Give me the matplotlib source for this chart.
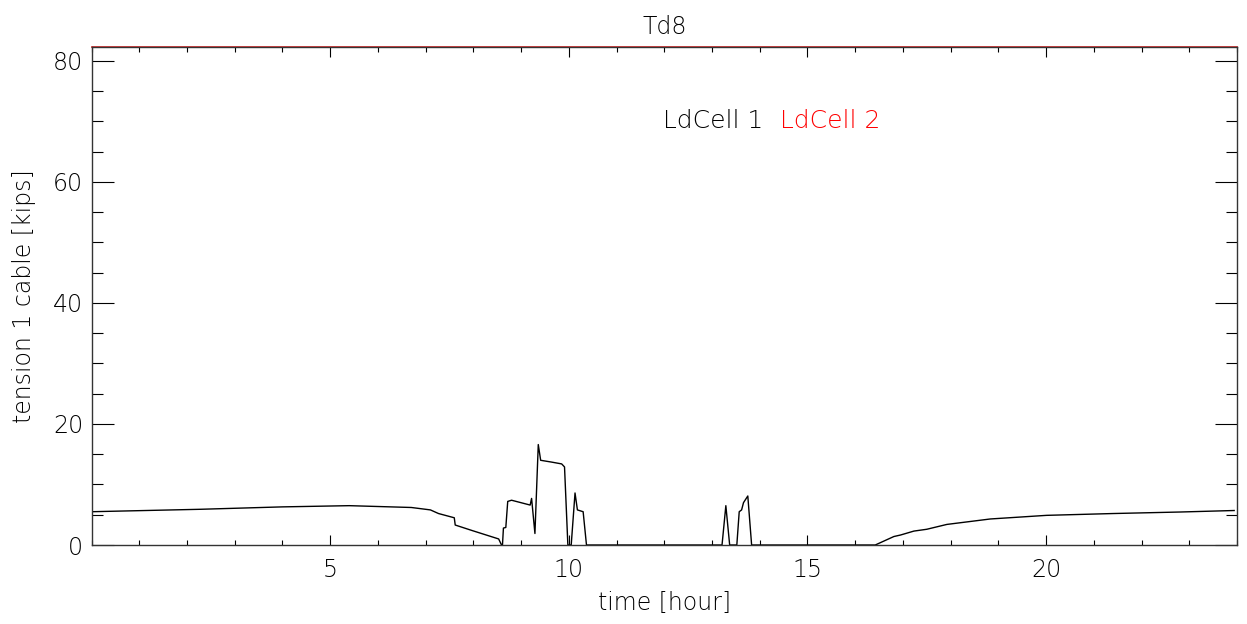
# Td8 load cell tension over one day (IDL-style plot)
import matplotlib
matplotlib.use('Agg')
import matplotlib.pyplot as plt
from matplotlib.ticker import MultipleLocator

# LdCell 1 readings (hour, kips)
hours_1 = [0.0, 2.27, 4.0, 5.4, 6.7, 7.1, 7.27, 7.6, 7.62, 7.97, 8.53, 8.59,
           8.61, 8.63, 8.68, 8.72, 8.8, 9.19, 9.22, 9.29, 9.36, 9.41, 9.64,
           9.85, 9.91, 9.98, 10.05, 10.13, 10.18, 10.30, 10.37,
           13.21, 13.29, 13.37, 13.52, 13.57, 13.62, 13.66, 13.75, 13.83,
           16.42, 16.81, 16.95, 17.23, 17.5, 17.92, 18.83, 20.01, 21.4,
           22.8, 23.94]
tension_1 = [5.5, 5.9, 6.3, 6.5, 6.2, 5.8, 5.2, 4.5, 3.3, 2.4, 1.0, 0.0,
             0.0, 2.8, 2.9, 7.2, 7.4, 6.6, 7.7, 1.9, 16.6, 14.0, 13.7,
             13.4, 12.9, 0.0, 0.0, 8.6, 5.8, 5.5, 0.0,
             0.0, 6.5, 0.0, 0.0, 5.5, 5.8, 7.0, 8.1, 0.0,
             0.0, 1.4, 1.65, 2.3, 2.6, 3.4, 4.3, 4.9, 5.2,
             5.45, 5.7]

# LdCell 2 sits pinned at the top of the range all day
hours_2 = [0.0, 24.0]
tension_2 = [82.3, 82.3]

plt.rcParams['font.family'] = ['DejaVu Sans']

fig = plt.figure(figsize=(12.47, 6.24), dpi=100)
ax = fig.add_axes([0.0734, 0.1266, 0.9186, 0.7981])

ax.plot(hours_1, tension_1, color='black', linewidth=1.0)
ax.plot(hours_2, tension_2, color='#d62020', linewidth=1.2, clip_on=False)

ax.set_xlim(0, 24)
ax.set_ylim(0, 82.3)

ax.xaxis.set_major_locator(MultipleLocator(5))
ax.xaxis.set_minor_locator(MultipleLocator(1))
ax.yaxis.set_major_locator(MultipleLocator(20))
ax.yaxis.set_minor_locator(MultipleLocator(5))
ax.set_xticks([5, 10, 15, 20])

ax.tick_params(axis='x', which='major', direction='in', length=7, width=0.8,
               top=True, labelsize=17, pad=9, colors='black')
ax.tick_params(axis='x', which='minor', direction='in', length=3.6, width=0.8,
               top=True)
ax.tick_params(axis='y', which='major', direction='in', length=16, width=0.8,
               right=True, labelsize=17, pad=6, colors='black')
ax.tick_params(axis='y', which='minor', direction='in', length=8, width=0.8,
               right=True)
for lab in ax.get_xticklabels() + ax.get_yticklabels():
    lab.set_fontweight('light')

for s in ax.spines.values():
    s.set_linewidth(1.0)
    s.set_color('#333333')

ax.set_title('Td8', fontsize=17, color='black', pad=9, fontweight='light')
ax.set_xlabel('time [hour]', fontsize=17, color='black', labelpad=7,
              fontweight='light')
ax.set_ylabel('tension 1 cable [kips]', fontsize=17, color='black',
              labelpad=12, fontweight='light')

ax.text(0.499, 0.851, 'LdCell 1', transform=ax.transAxes, fontsize=18,
        color='black', va='center', ha='left', fontweight='light')
ax.text(0.601, 0.851, 'LdCell 2', transform=ax.transAxes, fontsize=18,
        color='red', va='center', ha='left', fontweight='light')

plt.savefig('out.png', dpi=100)
plt.close()
